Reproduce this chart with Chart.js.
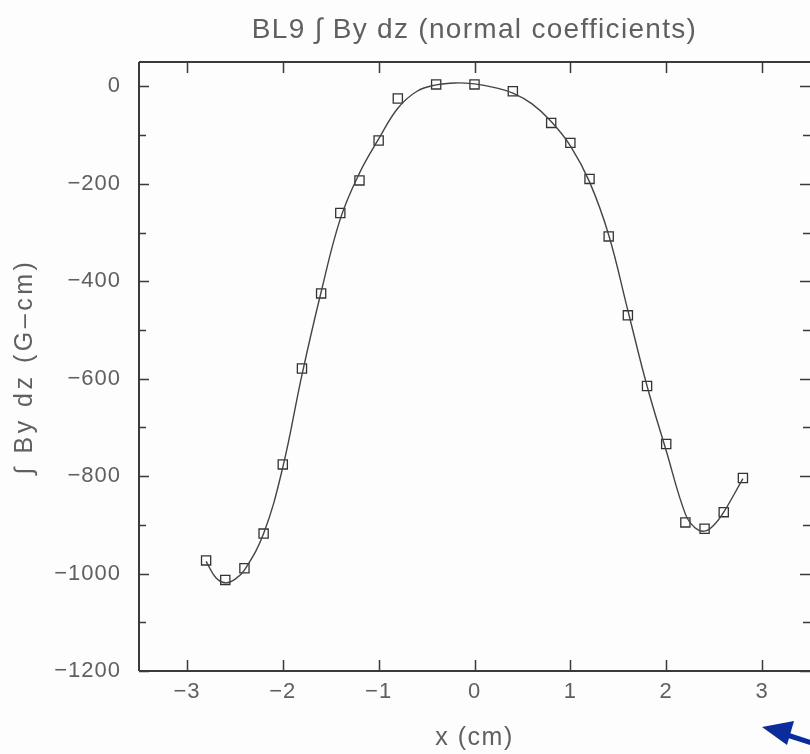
<!DOCTYPE html>
<html>
<head>
<meta charset="utf-8">
<script src="https://cdn.jsdelivr.net/npm/chart.js@4/dist/chart.umd.min.js"></script>
<style>
  html, body { margin: 0; padding: 0; background: #fdfdfd; }
  #wrap { width: 810px; height: 754px; }
</style>
</head>
<body>
<div id="wrap"><canvas id="c" width="810" height="754"></canvas></div>
<script>
// Measured points (squares)
const measX = [-2.8, -2.6, -2.4, -2.2, -2.0, -1.8, -1.6, -1.4, -1.2, -1.0, -0.8, -0.4, 0.0, 0.4, 0.8, 1.0, 1.2, 1.4, 1.6, 1.8, 2.0, 2.2, 2.4, 2.6, 2.8];
const measY = [-973, -1013, -989, -918, -776, -579, -425, -260, -193, -111, -25, 4, 4, -10, -75, -116, -190, -308, -470, -615, -734, -895, -908, -874, -804];

// Fitted curve
const fitX = [-2.8, -2.7, -2.6, -2.5, -2.4, -2.2, -2.0, -1.8, -1.6, -1.4, -1.2, -1.0, -0.8, -0.6, -0.4, -0.2, 0.0, 0.2, 0.4, 0.6, 0.8, 1.0, 1.2, 1.4, 1.6, 1.8, 2.0, 2.2, 2.3, 2.4, 2.5, 2.6, 2.8];
const fitY = [-975, -1008, -1019, -1012, -993, -918, -782, -592, -422, -272, -178, -108, -45, -10, 3, 7, 5, -2, -14, -36, -72, -122, -196, -305, -460, -615, -748, -878, -906, -913, -900, -874, -805];

const xTicks = [-3, -2, -1, 0, 1, 2, 3];
const yMajorTicks = [0, -200, -400, -600, -800, -1000, -1200];

const TITLE = 'BL9 \u222B By dz (normal coefficients)';
const X_TITLE = 'x (cm)';
const Y_TITLE = '\u222B By dz (G\u2013cm)';

const FONT = '"Liberation Sans", "DejaVu Sans", sans-serif';
const TXT = '#606060';
const AXIS = '#3a3a3a';

function withSpacing(obj, name, sp) {
  if (!obj || !obj[name] || obj[name].__wrapped) return;
  const orig = obj[name];
  const f = function (...args) {
    const c = this.ctx;
    const prev = c.letterSpacing;
    c.letterSpacing = sp;
    const r = orig.apply(this, args);
    c.letterSpacing = prev;
    return r;
  };
  f.__wrapped = true;
  obj[name] = f;
}

const framePlugin = {
  id: 'frame',
  beforeDraw(chart) {
    withSpacing(chart.titleBlock, 'draw', '1.3px');
    withSpacing(chart.scales.y, 'drawTitle', '3.5px');
    withSpacing(chart.scales.x, 'drawTitle', '1.5px');
    withSpacing(chart.scales.y, 'drawLabels', '1px');
    withSpacing(chart.scales.x, 'drawLabels', '1px');
  },
  afterDatasetsDraw(chart) {
    const {ctx, chartArea: a, scales} = chart;
    const xs = scales.x, ys = scales.y;
    ctx.save();
    ctx.strokeStyle = AXIS;
    ctx.lineWidth = 2;
    ctx.beginPath();
    ctx.moveTo(a.left, a.top); ctx.lineTo(a.right, a.top);
    ctx.moveTo(a.left, a.bottom); ctx.lineTo(a.right, a.bottom);
    ctx.moveTo(a.left, a.top); ctx.lineTo(a.left, a.bottom);
    ctx.moveTo(a.right + 1, a.top); ctx.lineTo(a.right + 1, a.bottom);
    ctx.stroke();
    ctx.lineWidth = 1.5;
    ctx.beginPath();
    xs.ticks.forEach(t => {
      const px = Math.round(xs.getPixelForValue(t.value)) + 0.5;
      ctx.moveTo(px, a.bottom); ctx.lineTo(px, a.bottom - 11);
      ctx.moveTo(px, a.top); ctx.lineTo(px, a.top + 11);
    });
    ys.ticks.forEach(t => {
      const major = Math.abs(t.value % 200) < 1e-6;
      const len = major ? 10 : 7;
      const py = Math.round(ys.getPixelForValue(t.value)) + 0.5;
      ctx.moveTo(a.left, py); ctx.lineTo(a.left + len, py);
      ctx.moveTo(a.right, py); ctx.lineTo(a.right - len, py);
    });
    ctx.stroke();
    ctx.restore();
  },
  afterDraw(chart) {
    // blue annotation arrow below the plot, lower-right corner
    const {ctx, chartArea: a, width, height} = chart;
    ctx.save();
    ctx.fillStyle = '#0a2c9c';
    ctx.strokeStyle = '#0a2c9c';
    const tipX = a.right - 48, tipY = height - 27;
    ctx.lineWidth = 5;
    ctx.beginPath();
    ctx.moveTo(tipX + 22, tipY + 7);
    ctx.lineTo(width + 2, tipY + 16);
    ctx.stroke();
    ctx.beginPath();
    ctx.moveTo(tipX, tipY);
    ctx.lineTo(tipX + 32, tipY - 6);
    ctx.lineTo(tipX + 25, tipY + 18);
    ctx.closePath();
    ctx.fill();
    ctx.restore();
  }
};

new Chart(document.getElementById('c'), {
  type: 'scatter',
  data: {
    datasets: [
      {
        type: 'line',
        label: 'fit',
        data: fitX.map((x, i) => ({x, y: fitY[i]})),
        borderColor: '#444',
        borderWidth: 1.4,
        pointRadius: 0,
        tension: 0.4,
        fill: false
      },
      {
        label: 'measured',
        data: measX.map((x, i) => ({x, y: measY[i]})),
        pointStyle: 'rect',
        pointRadius: 6.5,
        borderColor: '#333',
        backgroundColor: 'rgba(0,0,0,0)',
        borderWidth: 1.3
      }
    ]
  },
  options: {
    responsive: false,
    animation: false,
    devicePixelRatio: 1,
    layout: { autoPadding: false, padding: { left: 0, right: 0, top: 0, bottom: 0 } },
    plugins: {
      legend: { display: false },
      tooltip: { enabled: false },
      title: {
        display: true,
        fullSize: false,
        text: TITLE,
        color: TXT,
        font: { family: FONT, size: 28, weight: 'normal', lineHeight: 1.2 },
        padding: { top: 13.2, bottom: 15.2 }
      }
    },
    scales: {
      x: {
        type: 'linear',
        min: -3.5, max: 3.5,
        afterBuildTicks(s) { s.ticks = xTicks.map(v => ({value: v})); },
        afterFit(s) { s.height = 83; s.paddingLeft = 0; s.paddingRight = 0; },
        grid: { display: false, drawTicks: false },
        border: { display: false },
        ticks: { color: TXT, font: { family: FONT, size: 22 }, padding: 8, maxRotation: 0, autoSkip: false,
                 callback: v => String(v).replace('-', '\u2212') },
        title: { display: true, text: X_TITLE, color: TXT, font: { family: FONT, size: 25, lineHeight: 1.2 },
                 padding: { top: 0, bottom: 1 } }
      },
      y: {
        type: 'linear',
        min: -1200, max: 50,
        afterBuildTicks(s) {
          const t = [];
          for (let v = -1200; v <= 0; v += 100) t.push({value: v});
          s.ticks = t;
        },
        afterFit(s) { s.width = 139; },
        grid: { display: false, drawTicks: false },
        border: { display: false },
        ticks: { color: TXT, font: { family: FONT, size: 22 }, padding: 18, autoSkip: false,
                 callback: v => yMajorTicks.includes(v) ? String(v).replace('-', '\u2212') : '' },
        title: { display: true, text: Y_TITLE, color: TXT, font: { family: FONT, size: 25, lineHeight: 1.2 },
                 padding: { top: 10, bottom: 0 } }
      }
    }
  },
  plugins: [framePlugin]
});
</script>
</body>
</html>
